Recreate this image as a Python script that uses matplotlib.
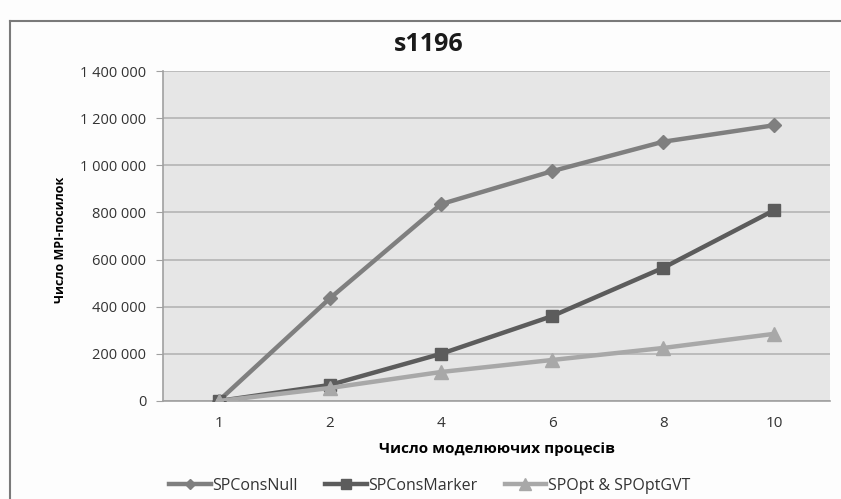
import matplotlib.pyplot as plt
from matplotlib.lines import Line2D

# дані з графіка
procs = ["1", "2", "4", "6", "8", "10"]
cons_null = [0, 435000, 835000, 975000, 1100000, 1170000]
cons_marker = [0, 68000, 200000, 360000, 565000, 810000]
opt_gvt = [0, 55000, 123000, 174000, 225000, 285000]
y_ticks = [0, 200000, 400000, 600000, 800000, 1000000, 1200000, 1400000]

plt.rcParams['font.family'] = ['Open Sans', 'DejaVu Sans']

fig = plt.figure(figsize=(8.41, 4.99), dpi=100)
fig.patch.set_facecolor('#fdfdfd')
ax = fig.add_axes([0.1938, 0.1964, 0.7931, 0.6613])
ax.set_facecolor('#e6e6e6')

x = range(len(procs))
ax.plot(x, cons_null, color='#7f7f7f', lw=3.2, marker='D', ms=7,
        label='SPConsNull', zorder=3)
ax.plot(x, cons_marker, color='#5c5c5c', lw=3.2, marker='s', ms=9,
        label='SPConsMarker', zorder=4)
ax.plot(x, opt_gvt, color='#a8a8a8', lw=3.2, marker='^', ms=10,
        label='SPOpt & SPOptGVT', zorder=5)

ax.set_xlim(-0.5, len(procs) - 0.5)
ax.set_ylim(0, 1400000)
ax.set_xticks(list(x))
ax.set_xticklabels(procs)
ax.set_yticks(y_ticks)
ax.set_yticklabels([f"{v:,}".replace(",", " ") for v in y_ticks])
ax.grid(axis='y', color='#b4b4b4', lw=1.2)
ax.set_axisbelow(True)
for s in ['top', 'right']:
    ax.spines[s].set_visible(False)
for s in ['left', 'bottom']:
    ax.spines[s].set_color('#a0a0a0')
    ax.spines[s].set_linewidth(1.2)
ax.tick_params(axis='y', length=5, color='#a0a0a0', labelsize=10.5, pad=7,
               labelcolor='#333333')
ax.tick_params(axis='x', length=0, labelsize=11, pad=11, labelcolor='#333333')

fig.text(0.51, 0.91, 's1196', fontsize=18, fontweight='bold',
         ha='center', va='center', color='#1a1a1a')
ax.set_xlabel('Число моделюючих процесів', fontsize=11, fontweight='bold',
              labelpad=8)
fig.text(0.072, 0.52, 'Число MPI-посилок', rotation=90, fontsize=9,
         fontweight='bold', ha='center', va='center')

leg = fig.legend(loc='center', bbox_to_anchor=(0.511, 0.026), ncol=3,
                 frameon=False, fontsize=11.5, handlelength=2.6,
                 handletextpad=0.1, columnspacing=1.7, markerscale=0.8)
for t in leg.get_texts():
    t.set_color('#333333')

# рамка діаграми
fig.add_artist(Line2D([0.0119, 0.0119], [0, 0.958], color='#7a7a7a', lw=1.5,
                      transform=fig.transFigure))
fig.add_artist(Line2D([0.0119, 1], [0.958, 0.958], color='#7a7a7a', lw=1.5,
                      transform=fig.transFigure))

fig.savefig('out.png', dpi=100, facecolor=fig.get_facecolor())
